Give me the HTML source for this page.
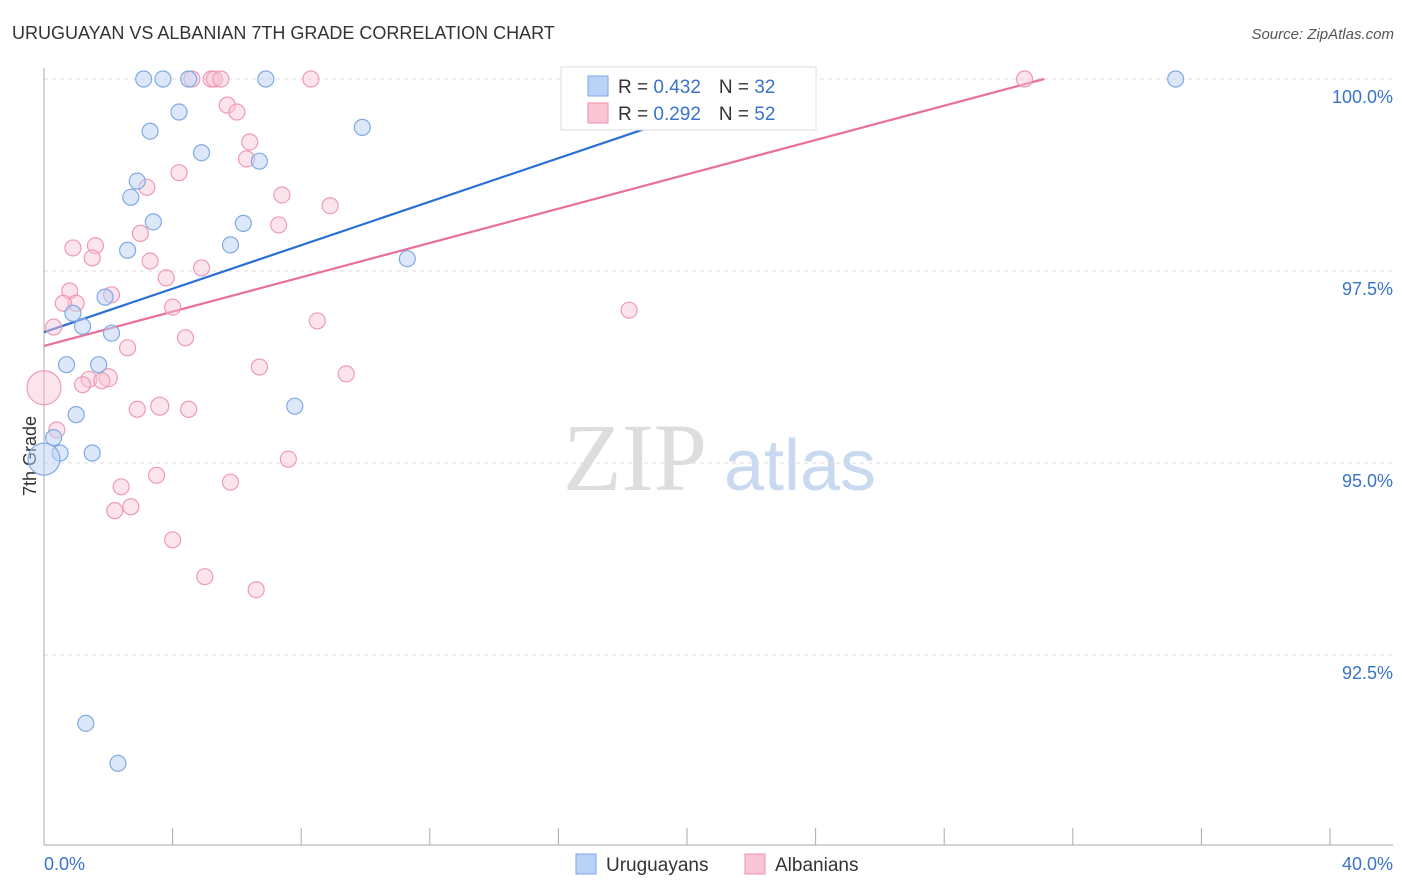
<!DOCTYPE html>
<html><head><meta charset="utf-8"><style>
body{margin:0;background:#fff;font-family:"Liberation Sans",sans-serif}
svg{display:block}
</style></head><body>
<svg id="c" width="1406" height="892">
<text x="12" y="39" font-size="18" fill="#333">URUGUAYAN VS ALBANIAN 7TH GRADE CORRELATION CHART</text>
<text x="1394" y="39" font-size="15" fill="#555" text-anchor="end" font-style="italic">Source: ZipAtlas.com</text>
<text x="36" y="456" font-size="18" fill="#333" transform="rotate(-90 36 456)" text-anchor="middle">7th Grade</text>
<g><text x="635" y="490" font-size="96" font-family="Liberation Serif,serif" fill="#ddd" text-anchor="middle">ZIP</text><text x="800" y="490" font-size="72" fill="#c9daf0" text-anchor="middle">atlas</text></g>
<g id="grid"></g><g id="axes"></g><g id="lines"></g><g id="pts"></g>
<g>
<rect x="561" y="67" width="255" height="63" fill="#fff" stroke="#ddd"/>
<rect x="588" y="76" width="20" height="20" fill="#b9d2f5" stroke="#7aa6e6"/>
<rect x="588" y="103" width="20" height="20" fill="#f9c4d4" stroke="#ee8fad"/>
<text x="618" y="93" font-size="19" fill="#333">R = <tspan fill="#3a73c9">0.432</tspan><tspan dx="18">N = </tspan><tspan fill="#3a73c9">32</tspan></text>
<text x="618" y="120" font-size="19" fill="#333">R = <tspan fill="#3a73c9">0.292</tspan><tspan dx="18">N = </tspan><tspan fill="#3a73c9">52</tspan></text>
</g>
<g>
<rect x="576" y="854" width="20" height="20" fill="#b9d2f5" stroke="#7aa6e6"/>
<text x="606" y="871" font-size="19" fill="#333">Uruguayans</text>
<rect x="745" y="854" width="20" height="20" fill="#f9c4d4" stroke="#ee8fad"/>
<text x="775" y="871" font-size="19" fill="#333">Albanians</text>
</g>
</svg>
<script>
const yTicks=[100,97.5,95,92.5];
const yTickLabels=["100.0%","97.5%","95.0%","92.5%"];
const xTickLabels=["0.0%","40.0%"];
const blueX=[3.1,3.7,4.5,6.9,23.6,35.2,4.2,3.3,9.9,4.9,6.7,2.9,2.7,3.4,6.2,5.8,2.6,11.3,1.9,0.9,1.2,2.1,0.7,1.7,7.8,1.0,0.3,0.5,1.5,1.3,2.3,0];
const blueY=[100,100,100,100,100,100,99.57,99.32,99.37,99.04,98.93,98.67,98.46,98.14,98.12,97.84,97.77,97.66,97.16,96.95,96.78,96.69,96.28,96.28,95.74,95.63,95.33,95.13,95.13,91.61,91.09,95.05];
const blueR=[8,8,8,8,8,8,8,8,8,8,8,8,8,8,8,8,8,8,8,8,8,8,8,8,8,8,8,8,8,8,8,16];
const pinkX=[4.6,5.2,5.3,5.5,8.3,30.5,5.7,6.0,6.4,6.3,4.2,3.2,7.4,8.9,7.3,3.0,0.9,1.6,1.5,3.3,4.9,3.8,0.8,2.1,1.0,0.6,4.0,18.2,8.5,0.3,4.4,2.6,6.7,9.4,1.4,2.0,1.8,1.2,0,2.9,3.6,4.5,0.4,7.6,3.5,5.8,2.4,2.7,2.2,4.0,5.0,6.6];
const pinkY=[100,100,100,100,100,100,99.66,99.57,99.18,98.96,98.78,98.59,98.49,98.35,98.1,97.99,97.8,97.83,97.67,97.63,97.54,97.41,97.24,97.19,97.08,97.08,97.03,96.99,96.85,96.77,96.63,96.5,96.25,96.16,96.09,96.11,96.07,96.02,95.98,95.7,95.74,95.7,95.43,95.05,94.84,94.75,94.69,94.43,94.38,94.0,93.52,93.35];
const pinkR=pinkX.map((_,i)=>i==38?17:(i==40||i==35?9:8));
const NS="http://www.w3.org/2000/svg";
const X=v=>44+v*32.15, Y=v=>79+(100-v)*76.8;
function mk(t,a,p){const e=document.createElementNS(NS,t);for(const k in a)e.setAttribute(k,a[k]);document.getElementById(p).appendChild(e);return e;}
yTicks.forEach((t,i)=>{
 const l=mk('line',{x1:44,x2:1393,y1:Y(t),y2:Y(t),stroke:'#ddd','stroke-dasharray':'4,4'},'grid');
 
 
 const tx=mk('text',{x:1393,y:Y(t)+24,'font-size':18,fill:'#3a73c9','text-anchor':'end'},'axes');tx.textContent=yTickLabels[i];
 
 
});
let a=mk('line',{x1:44,x2:44,y1:68,y2:845,stroke:'#aaa'},'axes');


a=mk('line',{x1:44,x2:1393,y1:845,y2:845,stroke:'#aaa'},'axes');


for(let i=0;i<=10;i++){const t=mk('line',{x1:X(i*4),x2:X(i*4),y1:828,y2:845,stroke:'#aaa'},'axes');
 
 }
[[0,'start',44],[40,'end',1393]].forEach((d,i)=>{const t=mk('text',{x:d[2],y:870,'font-size':18,fill:'#3a73c9','text-anchor':d[1]},'axes');t.textContent=xTickLabels[i];
 
 });
function fit(xs,ys){const n=xs.length,mx=xs.reduce((a,b)=>a+b)/n,my=ys.reduce((a,b)=>a+b)/n;let sxy=0,sxx=0;xs.forEach((x,i)=>{sxy+=(x-mx)*(ys[i]-my);sxx+=(x-mx)**2});const b=sxy/sxx;return [my-b*mx,b];}
function trend(xs,ys,col,name){const [a0,b]=fit(xs,ys);let x2=Math.min(40,(100-a0)/b);const l=mk('line',{x1:X(0),y1:Y(a0),x2:X(x2),y2:Y(a0+b*x2),stroke:col,'stroke-width':2.2},'lines');
 
 }
trend(blueX,blueY,'#2a6fd6','uruguayans-trend-line');
trend(pinkX,pinkY,'#e8709a','albanians-trend-line');
pinkX.forEach((x,i)=>{const c=mk('circle',{cx:X(x),cy:Y(pinkY[i]),r:pinkR[i],fill:'rgba(249,196,212,0.45)',stroke:'#ee9ab5','stroke-width':1.2},'pts');
 
 });
blueX.forEach((x,i)=>{const c=mk('circle',{cx:X(x),cy:Y(blueY[i]),r:blueR[i],fill:'rgba(185,210,245,0.5)',stroke:'#80a9e6','stroke-width':1.2},'pts');
 
 });
</script>
</body></html>
